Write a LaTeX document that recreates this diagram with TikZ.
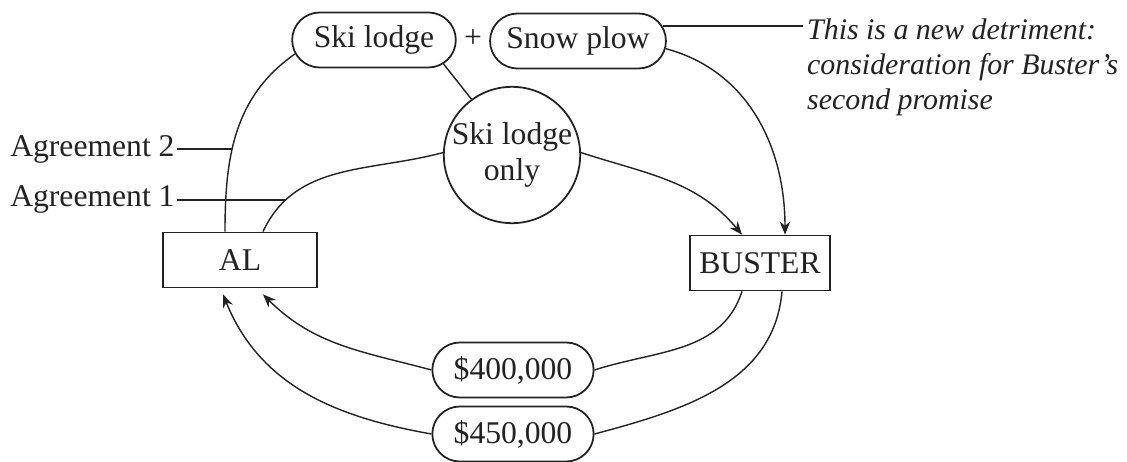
\documentclass[tikz,border=0pt]{standalone}
\usepackage{fontspec}
\setmainfont{Liberation Serif}
\usepackage{tikz}
\usetikzlibrary{arrows.meta,shapes.misc}
\definecolor{inkdark}{HTML}{222222}

\begin{document}
\begin{tikzpicture}[
    color=inkdark, line width=0.8pt,
    every node/.style={font=\fontsize{18}{20}\selectfont},
    pill/.style={rounded rectangle, draw, line width=1pt, minimum height=1.1cm, inner xsep=10pt},
    party/.style={rectangle, draw, line width=1pt, minimum height=1.1cm},
    tag/.style={inner sep=1pt},
    flow/.style={-{Stealth[length=7.5pt, width=6pt, inset=2.5pt]}}
]
\useasboundingbox (0,0) rectangle (22.54,-9.24);
\node[pill] (ski) at (7.48,-0.80) {Ski lodge};
\node (plus) at (9.46,-0.78) {+};
\node[pill, inner xsep=7pt] (snow) at (11.56,-0.82) {Snow plow};
\node[circle, draw, line width=1pt, minimum size=2.66cm, inner sep=0pt, align=center] (only) at (10.24,-3.10) {Ski lodge\\only};
\node[party, minimum width=3.08cm] (al) at (4.80,-5.20) {AL};
\node[party, minimum width=2.8cm] (buster) at (15.20,-5.26) {BUSTER};
\node[pill] (m400) at (10.26,-7.40) {\$400,000};
\node[pill] (m450) at (10.26,-8.68) {\$450,000};
\node[font=\fontsize{17}{20}\selectfont\itshape, align=left, anchor=west, inner sep=2pt] (note) at (16.06,-1.34) {This is a new detriment:\\consideration for Buster’s\\second promise};

\coordinate (lblx) at (3.54,0);
\draw (ski.190) to[out=215, in=90] coordinate[pos=0.6] (ag2) ([xshift=-0.3cm]al.north);
\draw ([xshift=0.46cm]al.north) to[out=65, in=195] coordinate[pos=0.19] (ag1) (only.178);
\node[tag, anchor=east] (agr2) at (ag2 -| lblx) {Agreement 2};
\node[tag, anchor=east] (agr1) at (ag1 -| lblx) {Agreement 1};
\draw (agr2) -- (ag2);
\draw (agr1) -- (ag1);
\draw (ski.-19) -- (only.126);
\draw[flow] (only.2) to[out=-18, in=130] ([xshift=-0.36cm]buster.north);
\draw[flow] (snow.-5) to[out=-15, in=90] ([xshift=0.5cm]buster.north);
\draw (snow.10) -- (note.west |- snow.10);
\draw ([xshift=-0.36cm]buster.south) to[out=-108, in=18] (m400.east);
\draw[flow] (m400.west) to[out=165, in=-45] ([xshift=0.46cm, yshift=-0.12cm]al.south);
\draw ([xshift=0.44cm]buster.south) to[out=-95, in=15] (m450.east);
\draw[flow] (m450.west) to[out=170, in=-68] ([xshift=-0.34cm, yshift=-0.12cm]al.south);
\end{tikzpicture}
\end{document}
